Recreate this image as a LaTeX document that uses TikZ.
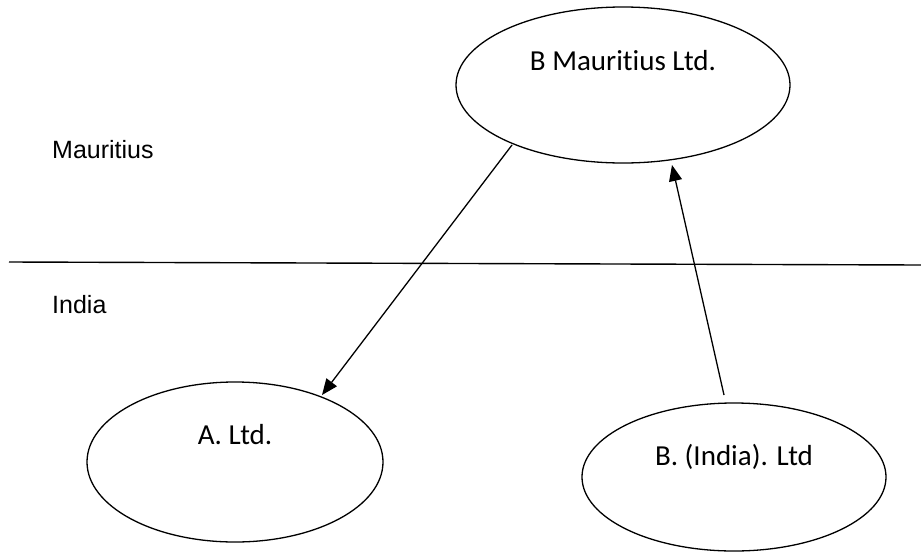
\documentclass[tikz,border=0pt]{standalone}
\usepackage{fontspec}
\setmainfont{Carlito}[Ligatures=NoCommon]
\newfontfamily\arialfont{Liberation Sans}
\usetikzlibrary{shapes.geometric,arrows.meta}
\begin{document}
\begin{tikzpicture}[x=1pt,y=-1pt,
  oval/.style={draw,ellipse,line width=1.3pt,inner sep=0pt},
  etext/.style={anchor=base,font=\fontsize{29}{34}\selectfont,inner sep=0pt},
  ctext/.style={anchor=base west,font=\arialfont\fontsize{25}{30}\selectfont,inner sep=0pt},
  conn/.style={line width=1.3pt,-{Triangle[length=16pt,width=13pt]}}]
\useasboundingbox (0,0) rectangle (921,552);
\fill[white] (0,0) rectangle (921,552);
% ellipses
\node[oval,minimum width=334pt,minimum height=156pt] (bm) at (623,85) {};
\node[oval,minimum width=296pt,minimum height=160pt] (al) at (235,462) {};
\node[oval,minimum width=304pt,minimum height=148pt] (bi) at (734,477) {};
% texts
\node[etext] (bmt) at (623,70) {B Mauritius Ltd.};
\node[etext] (alt) at (235,444) {A. Ltd.};
\node[etext] (bit) at (734,465) {B. (India). Ltd};
\node[ctext] (mau) at (52,158) {Mauritius};
\node[ctext] (ind) at (52,313) {India};
% border line
\coordinate (bl) at (9,262);
\coordinate (br) at (921,265);
\draw[line width=1.4pt] (bl) -- (br);
% connectors
\coordinate (a1s) at (512,145);
\coordinate (a1e) at (322,395);
\coordinate (a2s) at (724,395);
\coordinate (a2e) at (672,165);
\draw[conn] (a1s) -- (a1e);
\draw[conn] (a2s) -- (a2e);
\end{tikzpicture}
\end{document}
